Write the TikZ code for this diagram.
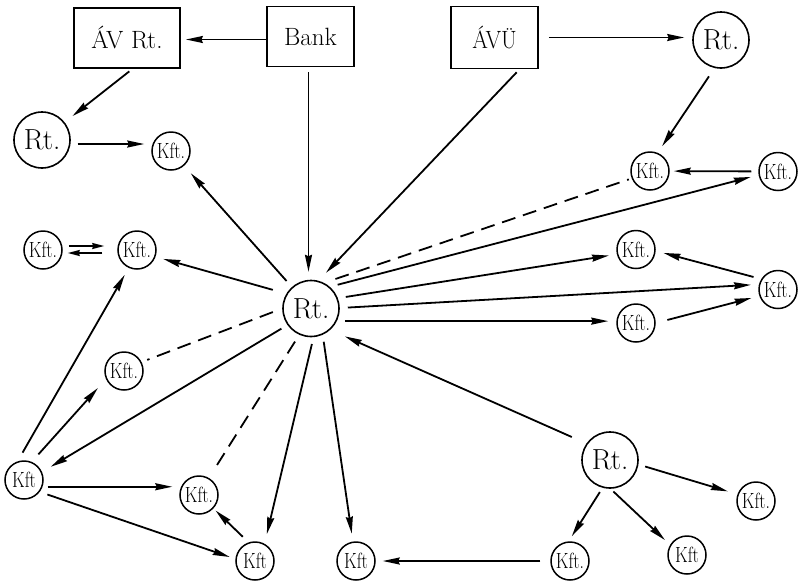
\documentclass[tikz,border=0pt]{standalone}
\usepackage{graphicx}
\usetikzlibrary{arrows.meta}
\newcommand\kftxt[1]{\scalebox{0.8}[1]{#1}}
\begin{document}
\begin{tikzpicture}[x=1pt,y=-1pt,
  rt/.style={circle,draw,line width=1.6pt,minimum size=56pt,inner sep=0pt,font=\fontsize{29}{29}\selectfont},
  kft/.style={circle,draw,line width=1.5pt,minimum size=38pt,inner sep=0pt,font=\fontsize{22}{22}\selectfont},
  box/.style={rectangle,draw,line width=1.8pt,inner sep=0pt,font=\fontsize{25}{25}\selectfont},
  arr/.style={line width=1.8pt,-{Stealth[length=17pt,width=7pt,inset=1.5pt]},shorten <=8pt,shorten >=8pt},
  arrs/.style={line width=1.7pt,-{Stealth[length=12pt,width=6pt,inset=1pt]}},
  dsh/.style={line width=1.8pt,dash pattern=on 14pt off 8pt,shorten <=8pt,shorten >=8pt},
]
\useasboundingbox (0,0) rectangle (798,582);

% nodes
\node[box,minimum width=106pt,minimum height=60pt] (AVRt) at (127,38) {ÁV Rt.};
\node[box,minimum width=87pt,minimum height=60pt] (Bank) at (310.5,36.5) {Bank};
\node[box,minimum width=87pt,minimum height=62pt] (AVU) at (494.5,37.5) {\scalebox{0.9}[1]{ÁVÜ}};
\node[rt] (RtR) at (721,40) {Rt.};
\node[rt] (RtL) at (42,140) {Rt.};
\node[rt] (RtC) at (311,308.5) {Rt.};
\node[rt] (RtB) at (610,460) {Rt.};
\node[kft] (K1) at (171,151) {\kftxt{Kft.}};
\node[kft] (KA) at (650,171) {\kftxt{Kft.}};
\node[kft] (KB) at (778,171.5) {\kftxt{Kft.}};
\node[kft] (KC) at (636,249.5) {\kftxt{Kft.}};
\node[kft] (KD) at (778,289.5) {\kftxt{Kft.}};
\node[kft] (KE) at (636,323) {\kftxt{Kft.}};
\node[kft] (KF) at (43,250) {\kftxt{Kft.}};
\node[kft] (KG) at (137,250) {\kftxt{Kft.}};
\node[kft] (KH) at (124,371) {\kftxt{Kft.}};
\node[kft] (KI) at (24,480) {\kftxt{Kft}};
\node[kft] (KJ) at (199,495) {\kftxt{Kft.}};
\node[kft] (KK) at (255,561) {\kftxt{Kft}};
\node[kft] (KL) at (356,561) {\kftxt{Kft}};
\node[kft] (KM) at (756,501) {\kftxt{Kft.}};
\node[kft] (KN) at (687,555) {\kftxt{Kft}};
\node[kft] (KO) at (570,561) {\kftxt{Kft.}};

% helper coordinates
\coordinate (b1) at ([yshift=-3pt]Bank.west);
\coordinate (f1) at ([yshift=4pt]KF.east);
\coordinate (g1) at ([yshift=-3pt]KG.west);

% top
\draw[arr,shorten <=0pt,shorten >=5pt] (b1) -- (b1 -| AVRt.east);
\draw[arr,shorten <=4pt,shorten >=10pt] (AVRt.-80) -- (RtL);
\draw[arr,shorten <=7pt,shorten >=7pt] (RtL.-8) -- (RtL.-8 -| K1.west);
\draw[arr,shorten <=5pt,shorten >=8pt] (Bank.south -| RtC.95) -- (RtC.95);
\draw[arr,shorten <=4pt,shorten >=11pt] (AVU.-52) -- (RtC.75);
\draw[arr,shorten <=10pt] (AVU.east) -- (AVU.east -| RtR.west);
\draw[arr,shorten <=10pt] (RtR.-103) -- (KA.67);
\draw[arr,shorten <=7pt,shorten >=4pt] (KB) -- (KA);

% right fan
\draw[dsh,shorten <=12pt,shorten >=3pt] (RtC.63) -- (KA.202);
\draw[arr] (RtC.49) -- (KB.190);
\draw[arr] (RtC.21) -- (KC.194);
\draw[arr] (KD.148) -- (KC.-4);
\draw[arr] (RtC.1) -- (KD.165);
\draw[arr] (RtC.-26) -- (RtC.-26 -| KE.west);
\draw[arr,shorten <=12pt] (KE.0) -- (KD.199);

% left
\draw[arr,shorten >=10pt] (RtC) -- (K1);
\draw[arr,shorten <=14pt] (RtC.149) -- (KG.-20);
\draw[arrs,shorten <=6pt,shorten >=13pt] (f1) -- (f1 -| KG.west);
\draw[arrs,shorten <=15pt,shorten >=5pt] (g1) -- (g1 -| KF.east);
\draw[dsh,shorten <=10pt,shorten >=6pt] (RtC.180) -- (KH.27);
\draw[arr,shorten <=10pt] (KI.109) -- (KG.-115);
\draw[arr,shorten <=10pt,shorten >=12pt] (KI.67) -- (KH.-156);
\draw[arr,shorten <=7pt,shorten >=10pt] (RtC.215) -- (KI.24);
\draw[arr,shorten <=5pt,shorten >=7pt] (KI.-20) -- (KI.-20 -| KJ.west);
\draw[arr,shorten >=6pt] (KI.-37) -- (KK.174);
\draw[arr,shorten >=3pt] (KK.109) -- (KJ.-43);

% bottom
\draw[dsh] (RtC.246) -- (KJ.60);
\draw[arr,shorten <=7pt,shorten >=10pt] (RtC.-85) -- (KK.61);
\draw[arr,shorten <=7pt] (RtC.-66) -- (KL.99);
\draw[arr,shorten <=10pt,shorten >=7pt] (KO) -- (KL);
\draw[arr,shorten <=16pt,shorten >=16pt] (RtB.145) -- (RtC.-48);
\draw[arr,shorten <=7pt,shorten >=10pt] (RtB.-9) -- (KM.160);
\draw[arr,shorten <=4pt,shorten >=7pt] (RtB.-89) -- (KN.149);
\draw[arr,shorten <=5pt,shorten >=6pt] (RtB.-105) -- (KO.94);
\end{tikzpicture}
\end{document}
